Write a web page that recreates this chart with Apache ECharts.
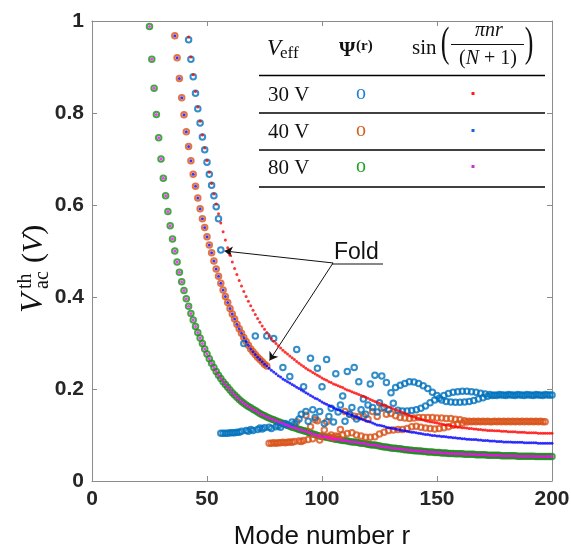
<!DOCTYPE html>
<html><head><meta charset="utf-8">
<script src="https://cdn.jsdelivr.net/npm/echarts@6/dist/echarts.min.js"></script>
<style>html,body{margin:0;padding:0;background:#fff}#c{width:571px;height:550px}</style>
</head><body><div id="c"></div>
<script>
// ---------------- DATA ----------------
const xTicks = [0, 50, 100, 150, 200];
const yTicks = [0, 0.2, 0.4, 0.6, 0.8, 1];

// theory sin(pi n r/(N+1)) curves, one value per integer r
const theory80Start = 25;
const theory80 = [.988,.917,.854,.797,.746,.700,.658,.620,.586,.555,.526,
.500,.476,.454,.433,.414,.396,.380,.364,.350,.336,
.323,.311,.299,.287,.276,.266,.256,.247,.238,.230,
.223,.216,.210,.204,.198,.192,.187,.182,.177,.173,
.169,.165,.162,.159,.156,.153,.150,.147,.144,.142,
.139,.137,.135,.133,.131,.129,.127,.125,.123,.121,
.119,.117,.116,.114,.112,.111,.109,.108,.106,.104,
.102,.101,.099,.098,.097,.096,.095,.094,.093,.092,
.091,.090,.089,.088,.088,.087,.086,.085,.085,.084,
.083,.082,.082,.081,.080,.079,.078,.078,.077,.076,
.075,.074,.074,.073,.072,.071,.071,.070,.070,.069,
.068,.068,.067,.067,.066,.066,.065,.065,.064,.064,
.063,.063,.063,.062,.062,.062,.061,.061,.061,.060,
.060,.060,.059,.059,.059,.059,.058,.058,.058,.058,
.058,.057,.057,.057,.057,.057,.056,.056,.056,.056,
.056,.056,.055,.055,.055,.055,.055,.055,.055,.054,
.054,.054,.054,.054,.054,.054,.054,.053,.053,.053,
.053,.053,.053,.053,.053];

const theory40Start = 36;
const theory40 = [.968,.920,.875,.833,.796,.759,.727,.696,.667,.641,
.615,.592,.570,.551,.531,.513,.496,.478,.461,.445,
.430,.415,.401,.388,.375,.363,.352,.341,.331,.321,
.312,.303,.295,.287,.281,.275,.269,.264,.259,.254,
.250,.245,.241,.237,.233,.229,.226,.222,.219,.216,
.213,.210,.207,.204,.201,.198,.195,.192,.189,.186,
.183,.180,.178,.175,.172,.169,.167,.164,.162,.159,
.157,.155,.153,.151,.149,.147,.145,.143,.141,.139,
.137,.135,.133,.131,.130,.128,.126,.124,.122,.121,
.120,.119,.117,.116,.115,.114,.113,.112,.111,.110,
.109,.108,.107,.106,.106,.105,.104,.103,.102,.101,
.101,.100,.099,.099,.098,.098,.097,.097,.096,.095,
.095,.094,.094,.093,.093,.092,.092,.091,.091,.090,
.090,.090,.089,.089,.088,.088,.088,.087,.087,.087,
.086,.086,.086,.085,.085,.085,.085,.084,.084,.084,
.084,.084,.083,.083,.083,.083,.083,.083,.082,.082,
.082,.082,.082,.082,.082];

const theory30Start = 42;
const theory30 = [.965,.922,.883,.847,.813,.782,.752,.724,.697,.671,
.647,.624,.602,.581,.561,.542,.524,.507,.491,.476,
.462,.449,.436,.424,.412,.401,.391,.381,.371,.362,
.353,.345,.337,.330,.323,.316,.310,.304,.299,.294,
.289,.284,.280,.276,.272,.268,.264,.260,.256,.252,
.249,.245,.242,.239,.236,.233,.230,.227,.224,.221,
.219,.216,.214,.211,.209,.207,.205,.203,.200,.198,
.196,.194,.192,.190,.188,.186,.184,.182,.180,.177,
.175,.173,.171,.169,.167,.165,.163,.161,.159,.157,
.155,.153,.151,.149,.147,.145,.143,.141,.139,.137,
.136,.134,.133,.131,.130,.129,.128,.127,.126,.125,
.124,.123,.122,.121,.120,.119,.118,.117,.117,.116,
.116,.115,.114,.114,.113,.113,.112,.112,.111,.111,
.110,.110,.110,.109,.109,.109,.108,.108,.108,.107,
.107,.107,.107,.106,.106,.106,.106,.105,.105,.105,
.105,.105,.104,.104,.104,.104,.104,.104,.104];

// Psi^(r) results (circles)
const psi30UpperStart = 42;
const psi30Upper = [.959,.917,.879,.843,.809,.778,.748,.720,.693,.667,.643,.620,.596,.570,.502];
const psi30LowerStart = 56;
const psi30Lower = [.104,.104,.104,.104,.105,.105,.105,.106,.106,
.108,.299,.110,.108,.112,.110,.315,.112,.115,.113,.116,.315,.117,.114,.310,.118,
.120,.117,.247,.125,.122,.227,.128,.124,.286,.135,.145,.205,.151,.130,.267,.155,
.138,.245,.151,.205,.125,.264,.140,.158,.128,.233,.150,.165,.185,.130,.238,.145,
.160,.247,.135,.216,.155,.178,.145,.165,.211,.160,.230,.150,.170,.228,.160,.214,
.155,.192,.169,.203,.154,.208,.152,.212,.152,.216,.153,.215,.155,.212,.158,.207,
.163,.201,.170,.193,.176,.186,.180,.176,.186,.173,.190,.172,.193,.171,.194,.171,
.195,.172,.195,.173,.194,.175,.193,.178,.191,.181,.189,.184,.188,.186,.187,.186,
.188,.187,.187,.186,.188,.187,.187,.186,.188,.187,.187,.186,.188,.187,.187,.186,
.188,.187,.187,.186,.188,.187,.187,.187];
const psi40UpperStart = 36;
const psi40Upper = [.968,.920,.875,.833,.796,.759,.727,.696,.667,.641,
.615,.592,.570,.551,.531,.513,.496,.478,.461,.445,
.430,.415,.401,.388,.375,.363,.352,.341,.331,.321,
.312,.303,.295,.287,.281,.275,.269,.264,.259,.254,.250];
const psi40LowerStart = 77;
const psi40Lower = [.082,.082,.083,.082,.083,.083,.084,.083,.084,.085,.084,.086,
.129,.087,.086,.088,.143,.090,.118,.092,.133,.131,.089,
.098,.111,.129,.096,.100,.094,.098,.096,.112,.100,
.151,.103,.145,.105,.141,.100,.140,.098,.141,.095,
.134,.095,.151,.096,.140,.102,.158,.106,.145,.110,
.147,.111,.142,.112,.138,.112,.137,.114,.136,.118,
.137,.119,.138,.117,.138,.115,.138,.114,.138,.113,
.137,.114,.137,.116,.136,.118,.136,.121,.134,.124,
.133,.126,.131,.128,.130,.129,.130,.129,.130,.129,
.130,.129,.130,.129,.129,.130,.129,.130,.129,.130,
.129,.130,.129,.130,.129,.130,.129,.130,.129,.130,
.129,.130,.129,.130,.129,.130,.129,.129];
const psi80Start = 25;
const psi80 = theory80.slice();

// annotation anchors (data coordinates)
const foldArrowStart = [104.8, 0.474];
const foldTips = [[57.6, 0.500], [77.2, 0.262]];

// legend table text
const legendRows = ['30 V', '40 V', '80 V'];

// ---------------- CHART ----------------
const pairs = (start, arr) => arr.map((v, i) => [start + i, v]);
const AX = '#8c8c8c';
const chart = echarts.init(document.getElementById('c'), null, {renderer: 'canvas'});

function circles(data, color, z) {
  return {type: 'scatter', data, symbol: 'circle', symbolSize: 5.5, silent: true, z,
    itemStyle: {color: 'rgba(0,0,0,0)', borderColor: color, borderWidth: 2}};
}
function dots(data, color, z) {
  return {type: 'scatter', data, symbol: 'circle', symbolSize: 3, silent: true, z,
    itemStyle: {color}};
}
const baseAxis = {type: 'value', splitLine: {show: false},
  axisLine: {show: true, onZero: false, lineStyle: {color: AX, width: 1}},
  axisTick: {show: true, inside: true, length: 5, lineStyle: {color: AX}}};
const lblStyle = {color: '#262626', fontSize: 21, fontWeight: 'bold', fontFamily: 'Liberation Sans, Arial, sans-serif', margin: 8};

const C_BLUE = '#0072BD', C_ORANGE = '#D95319', C_GREEN = '#1c8c1c';
const serif = 'Liberation Serif, Times New Roman, serif';

const legendGraphics = [];
[75.5, 113, 150, 187].forEach(y => legendGraphics.push({type: 'line', shape: {x1: 259, y1: y, x2: 545, y2: y}, style: {stroke: '#000', lineWidth: 1.3}, z: 100}));
const rowY = [95, 132, 168];
const oColors = ['#1f7fd6', '#d2601a', '#22a022'];
const dColors = ['#ff1a1a', '#1a5fe0', '#d030d0'];
legendRows.forEach((t, i) => {
  legendGraphics.push({type: 'text', x: 268, y: rowY[i], style: {text: t, font: '21px ' + serif, fill: '#111', verticalAlign: 'middle'}, z: 100});
  legendGraphics.push({type: 'text', x: 361, y: rowY[i] - 1, style: {text: 'o', font: '20px ' + serif, fill: oColors[i], align: 'center', verticalAlign: 'middle'}, z: 100});
  legendGraphics.push({type: 'rect', shape: {x: 471.5, y: rowY[i] - 3, width: 3, height: 3}, style: {fill: dColors[i]}, z: 100});
});
// header
legendGraphics.push(
  {type: 'text', x: 267, y: 49, style: {text: 'V', font: 'italic 23px ' + serif, fill: '#111', verticalAlign: 'middle'}, z: 100},
  {type: 'text', x: 280, y: 54, style: {text: 'eff', font: '17px ' + serif, fill: '#111', verticalAlign: 'middle'}, z: 100},
  {type: 'text', x: 339, y: 51, style: {text: 'Ψ', font: 'bold 21px ' + serif, fill: '#111', verticalAlign: 'middle'}, z: 100},
  {type: 'text', x: 356, y: 46, style: {text: '(r)', font: 'bold 15px ' + serif, fill: '#111', verticalAlign: 'middle'}, z: 100},
  {type: 'text', x: 412, y: 48, style: {text: 'sin', font: '21px ' + serif, fill: '#111', verticalAlign: 'middle'}, z: 100},
  {type: 'text', x: 445, y: 45, scaleY: 1.6, style: {text: '(', font: '26px ' + serif, fill: '#111', align: 'center', verticalAlign: 'middle'}, z: 100},
  {type: 'text', x: 529, y: 45, scaleY: 1.6, style: {text: ')', font: '26px ' + serif, fill: '#111', align: 'center', verticalAlign: 'middle'}, z: 100},
  {type: 'text', x: 489, y: 31, style: {text: 'πnr', font: 'italic 20px ' + serif, fill: '#111', align: 'center', verticalAlign: 'middle'}, z: 100},
  {type: 'line', shape: {x1: 451, y1: 44.5, x2: 524, y2: 44.5}, style: {stroke: '#111', lineWidth: 1}, z: 100},
  {type: 'text', x: 488, y: 59, style: {text: '{u|(}{i|N}{u| + 1)}', rich: {u: {font: '20px ' + serif, fill: '#111'}, i: {font: 'italic 20px ' + serif, fill: '#111'}}, align: 'center', verticalAlign: 'middle'}, z: 100}
);

// y axis title (rotated)
const yTitle = {type: 'group', x: 45, y: 313, rotation: Math.PI / 2, z: 100, children: [
  {type: 'text', x: 0, y: -11, style: {text: 'V', font: 'italic 32px ' + serif, fill: '#111', verticalAlign: 'middle'}},
  {type: 'text', x: 24, y: -19, style: {text: 'th', font: '20px ' + serif, fill: '#111', verticalAlign: 'middle'}},
  {type: 'text', x: 24, y: -2, style: {text: 'ac', font: '20px ' + serif, fill: '#111', verticalAlign: 'middle'}},
  {type: 'text', x: 50, y: -11, style: {text: '{p|(}{v|V}{p|)}', rich: {p: {font: '30px ' + serif, fill: '#111'}, v: {font: 'italic 30px ' + serif, fill: '#111'}}, verticalAlign: 'middle'}}
]};

const foldText = [
  {type: 'text', x: 334, y: 253, style: {text: 'Fold', font: '23px Liberation Sans, Arial, sans-serif', fill: '#111', verticalAlign: 'middle'}, z: 100},
  {type: 'line', shape: {x1: 332, y1: 264, x2: 383, y2: 264}, style: {stroke: '#111', lineWidth: 1.2}, z: 100}
];

chart.setOption({
  animation: false,
  backgroundColor: '#fff',
  grid: {left: 92, right: 19, top: 21, bottom: 69, containLabel: false, outerBoundsMode: 'none'},
  xAxis: [
    Object.assign({}, baseAxis, {min: xTicks[0], max: xTicks[xTicks.length - 1], interval: 50, position: 'bottom',
      axisLabel: lblStyle, name: 'Mode number r', nameLocation: 'middle', nameGap: 43,
      nameTextStyle: {fontSize: 26, color: '#111', fontFamily: 'Liberation Sans, Arial, sans-serif'}}),
    Object.assign({}, baseAxis, {min: xTicks[0], max: xTicks[xTicks.length - 1], interval: 50, position: 'top', axisLabel: {show: false}})
  ],
  yAxis: [
    Object.assign({}, baseAxis, {min: yTicks[0], max: yTicks[yTicks.length - 1], interval: 0.2, position: 'left', axisLabel: lblStyle}),
    Object.assign({}, baseAxis, {min: yTicks[0], max: yTicks[yTicks.length - 1], interval: 0.2, position: 'right', axisLabel: {show: false}})
  ],
  series: [
    circles(pairs(psi80Start, psi80), C_GREEN, 2),
    circles(pairs(psi40UpperStart, psi40Upper), C_ORANGE, 3),
    circles(pairs(psi40LowerStart, psi40Lower), C_ORANGE, 3),
    circles(pairs(psi30UpperStart, psi30Upper), C_BLUE, 4),
    circles(pairs(psi30LowerStart, psi30Lower), C_BLUE, 4),
    dots(pairs(theory80Start, theory80), '#ff00ff', 5),
    dots(pairs(theory40Start, theory40), '#0000ff', 6),
    dots(pairs(theory30Start, theory30), '#ff0000', 7),
    {type: 'scatter', data: [], silent: true, z: 8,
      markLine: {silent: true, animation: false, symbol: ['none', 'arrow'], symbolSize: 8,
        label: {show: false}, lineStyle: {color: '#111', width: 1, type: 'solid'},
        data: foldTips.map(t => [{coord: foldArrowStart}, {coord: t}])}}
  ],
  graphic: [...legendGraphics, yTitle, ...foldText]
});
</script></body></html>
